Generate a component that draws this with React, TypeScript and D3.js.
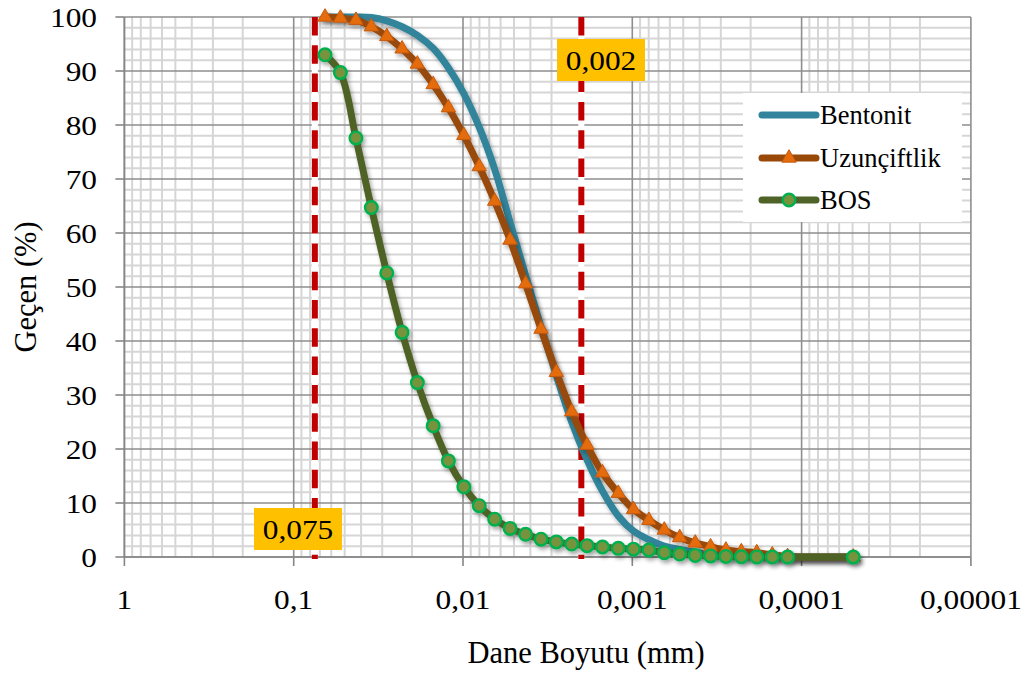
import React from "react";
import * as d3 from "d3";

const diameters = [0.0653, 0.053, 0.0429, 0.0348, 0.0282, 0.0229, 0.0186, 0.015, 0.0122, 0.00989, 0.00802, 0.0065, 0.00527, 0.00427, 0.00346, 0.00281, 0.00228, 0.00185, 0.0015, 0.00121, 0.000984, 0.000798, 0.000647, 0.000525, 0.000425, 0.000345, 0.00028, 0.000227, 0.000184, 0.000149, 0.000121, 0.0000495];
const bentonit = [100, 100, 100, 99.9, 99.3, 98.2, 96.6, 94.2, 90.6, 85.8, 79.6, 71.8, 62.0, 52.2, 42.6, 33.6, 25.0, 18.0, 12.2, 7.6, 4.8, 3.2, 2.0, 1.4, 0.9, 0.5, 0.2, 0, 0, 0, 0, 0];
const uzunciftlik = [100, 99.8, 99.4, 98.2, 96.4, 94.1, 91.3, 87.5, 83.2, 78.1, 72.3, 65.9, 58.7, 50.6, 42.2, 34.2, 26.9, 20.7, 15.6, 11.8, 8.8, 6.8, 5.0, 3.6, 2.6, 1.9, 1.3, 1.0, 0.8, 0.4, 0.1, 0];
const bos = [93.0, 89.7, 77.6, 64.7, 52.6, 41.6, 32.3, 24.3, 17.8, 13.0, 9.5, 7.0, 5.3, 4.2, 3.3, 2.8, 2.4, 2.1, 1.85, 1.6, 1.45, 1.3, 0.8, 0.55, 0.3, 0.2, 0.1, 0.05, 0.02, 0, 0, 0];

const xTickValues = [1, 0.1, 0.01, 0.001, 0.0001, 0.00001];
const xTickLabels = ["1", "0,1", "0,01", "0,001", "0,0001", "0,00001"];
const yTickValues = [0, 10, 20, 30, 40, 50, 60, 70, 80, 90, 100];
const refLines = [0.075, 0.002];
const refLabels = ["0,075", "0,002"];
const seriesNames = ["Bentonit", "Uzunçiftlik", "BOS"];

const FONT = "'Liberation Serif', 'Times New Roman', serif";

export default function App() {
  const W = 1030, H = 675;
  const L = 124.4, R = 970.9, T = 17, B = 557;
  const x = d3.scaleLog().domain([1, 0.00001]).range([L, R]);
  const y = d3.scaleLinear().domain([0, 100]).range([B, T]);

  const minorX: number[] = [];
  for (let e = -1; e >= -5; e--) for (let m = 2; m <= 9; m++) minorX.push(m * Math.pow(10, e));
  const minorY: number[] = [];
  for (let v = 2; v < 100; v += 2) if (v % 10 !== 0) minorY.push(v);

  const line = d3
    .line<[number, number]>()
    .x((d) => x(d[0]))
    .y((d) => y(d[1]))
    .curve(d3.curveCatmullRom.alpha(0.5));

  const pts = (vals: number[]) => diameters.map((d, i) => [d, vals[i]] as [number, number]);
  const tri = d3.symbol().type(d3.symbolTriangle).size(90)();

  const colBent = "#31849B";
  const colUzLine = "#984807";
  const colUzMark = "#E46C0A";
  const colBosLine = "#4F6228";
  const colBosMark = "#77933C";
  const colBosEdge = "#00B050";

  const labelBoxes = [
    { cx: 298, cy: 529 },
    { cx: 601, cy: 60 },
  ];

  const legendY = [115, 158, 200];
  const SX = 1.12;

  return (
    <svg width={W} height={H} style={{ position: "absolute", left: 0, top: 0, background: "#fff" }} fontFamily={FONT}>
      <defs>
        <filter id="shadow" x="-10%" y="-10%" width="120%" height="120%">
          <feDropShadow dx="2" dy="3" stdDeviation="2" floodColor="#000" floodOpacity="0.35" />
        </filter>
      </defs>
      {minorX.map((v, i) => (
        <line key={"mx" + i} x1={x(v)} x2={x(v)} y1={T} y2={B} stroke="#d6d6d6" strokeWidth={2} />
      ))}
      {minorY.map((v, i) => (
        <line key={"my" + i} x1={L} x2={R} y1={y(v)} y2={y(v)} stroke="#d6d6d6" strokeWidth={2} />
      ))}
      {xTickValues.map((v, i) => (
        <line key={"Mx" + i} x1={x(v)} x2={x(v)} y1={T} y2={B} stroke="#8e8e8e" strokeWidth={1.6} />
      ))}
      {yTickValues.map((v, i) => (
        <line key={"My" + i} x1={L} x2={R} y1={y(v)} y2={y(v)} stroke="#8e8e8e" strokeWidth={1.6} />
      ))}
      <line x1={L} x2={L} y1={T} y2={B} stroke="#868686" strokeWidth={1.6} />
      <line x1={L} x2={R} y1={B} y2={B} stroke="#868686" strokeWidth={1.6} />
      {yTickValues.map((v, i) => (
        <line key={"yt" + i} x1={L - 9} x2={L} y1={y(v)} y2={y(v)} stroke="#868686" strokeWidth={1.6} />
      ))}
      {xTickValues.map((v, i) => (
        <line key={"xt" + i} x1={x(v)} x2={x(v)} y1={B} y2={B + 9} stroke="#868686" strokeWidth={1.6} />
      ))}
      {yTickValues.map((v, i) => (
        <text key={"yl" + i} transform={`translate(97,${y(v)}) scale(${SX},1)`} dy="0.35em" textAnchor="end" fontSize={28} fill="#000">
          {v}
        </text>
      ))}
      {xTickValues.map((v, i) => (
        <text key={"xl" + i} transform={`translate(${x(v)},599) scale(${SX},1)`} dy="0.35em" textAnchor="middle" fontSize={28} fill="#000">
          {xTickLabels[i]}
        </text>
      ))}
      {refLines.map((v, i) => (
        <g key={"ref" + i}>
          <line x1={x(v)} x2={x(v)} y1={T} y2={B + 2} stroke="#fff" strokeWidth={6} />
          <line x1={x(v)} x2={x(v)} y1={T} y2={B + 2} stroke="#C00000" strokeWidth={6} strokeDasharray="18.5 9.8" />
        </g>
      ))}
      <g filter="url(#shadow)">
        <path d={line(pts(bentonit)) || ""} fill="none" stroke={colBent} strokeWidth={7} strokeLinecap="round" />
      </g>
      <g filter="url(#shadow)">
        <path d={line(pts(uzunciftlik)) || ""} fill="none" stroke={colUzLine} strokeWidth={7} strokeLinecap="round" />
        {pts(uzunciftlik).map((p, i) => (
          <path key={"t" + i} d={tri || ""} transform={`translate(${x(p[0])},${y(p[1])})`} fill={colUzMark} stroke="#C55A11" strokeWidth={1} />
        ))}
      </g>
      <g filter="url(#shadow)">
        <path d={line(pts(bos)) || ""} fill="none" stroke={colBosLine} strokeWidth={7} strokeLinecap="round" />
        {pts(bos).map((p, i) => (
          <circle key={"c" + i} cx={x(p[0])} cy={y(p[1])} r={6.3} fill={colBosMark} stroke={colBosEdge} strokeWidth={2.4} />
        ))}
      </g>
      {refLabels.map((t, i) => (
        <g key={"rl" + i}>
          <rect x={labelBoxes[i].cx - 44} y={labelBoxes[i].cy - 21} width={88} height={42} fill="#FFC000" />
          <text transform={`translate(${labelBoxes[i].cx},${labelBoxes[i].cy}) scale(${SX},1)`} dy="0.35em" textAnchor="middle" fontSize={28} fill="#000">
            {t}
          </text>
        </g>
      ))}
      <rect x={743} y={93} width={219} height={129} fill="#fff" />
      {seriesNames.map((n, i) => (
        <g key={"lg" + i}>
          <line
            x1={762}
            x2={816}
            y1={legendY[i]}
            y2={legendY[i]}
            stroke={i === 0 ? colBent : i === 1 ? colUzLine : colBosLine}
            strokeWidth={7}
            strokeLinecap="round"
          />
          {i === 1 && <path d={tri || ""} transform={`translate(789,${legendY[i]})`} fill={colUzMark} stroke="#C55A11" strokeWidth={1} />}
          {i === 2 && <circle cx={789} cy={legendY[i]} r={6.3} fill={colBosMark} stroke={colBosEdge} strokeWidth={2.4} />}
          <text x={820} y={legendY[i]} dy="0.35em" fontSize={26.5} fill="#000">
            {n}
          </text>
        </g>
      ))}
      <text x={586} y={652} dy="0.35em" textAnchor="middle" fontSize={30.5} fill="#000">
        Dane Boyutu (mm)
      </text>
      <text transform="translate(25,287) rotate(-90)" dy="0.35em" textAnchor="middle" fontSize={30.5} fill="#000">
        Geçen (%)
      </text>
    </svg>
  );
}
